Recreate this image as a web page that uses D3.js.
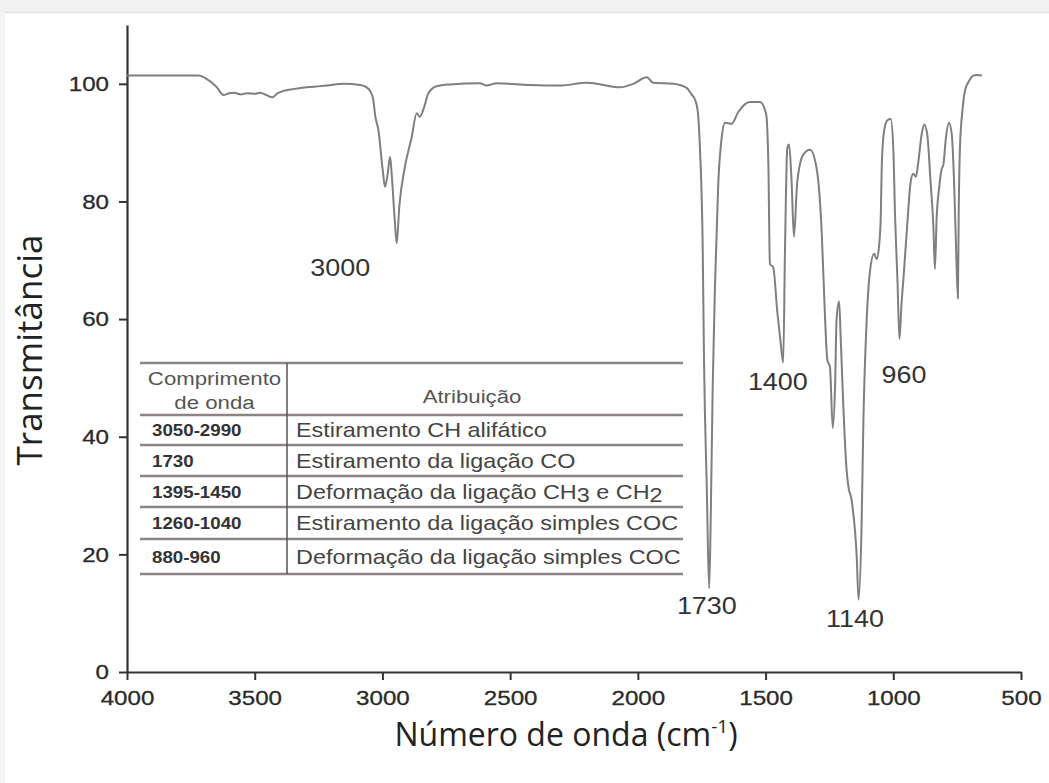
<!DOCTYPE html>
<html><head><meta charset="utf-8">
<script src="https://cdn.jsdelivr.net/npm/d3@7"></script>
<style>body{margin:0;background:#fff}svg{display:block}</style>
</head><body>
<svg id="chart" width="1049" height="783"></svg>
<script>
// FTIR spectrum: wavenumber (cm-1) and transmittance (%)
const wavenumbers = [4000,3720,3690,3650,3622,3600,3582,3555,3530,3500,3478,3455,3432,3410,3387,3350,3321,3270,3217,3152,3087,3062,3047,3036,3028,3016,2999,2990,2981,2970,2964,2952,2944,2934,2912,2885,2866,2853,2840,2820,2788,2735,2618,2592,2553,2422,2305,2200,2070,2018,1965,1940,1861,1809,1790,1776,1766,1757,1746,1741,1730,1721,1715,1707,1698,1685,1672,1659,1633,1607,1561,1522,1498,1489,1483,1470,1454,1441,1431,1424,1415,1408,1398,1389,1376,1352,1326,1300,1280,1267,1258,1248,1237,1228,1222,1212,1206,1196,1183,1176,1163,1143,1136,1124,1117,1104,1091,1075,1065,1055,1049,1045,1036,1023,1010,1000,993,983,976,968,958,945,932,922,911,902,889,879,867,854,843,837,830,821,810,804,794,782,771,762,754,747,744,739,728,719,700,690,675,653];
const transmittance = [101.4,101.4,100.9,99.5,98.1,98.4,98.5,98.2,98.4,98.3,98.5,98.1,97.7,98.4,98.8,99.1,99.3,99.5,99.7,100.0,99.8,99.4,98.7,97.3,94.5,92.2,85.4,82.5,84.2,87.6,84.8,77,72.9,79.1,85.9,91.0,95.0,94.4,95.6,98.4,99.6,99.9,100.1,99.7,100.1,99.8,99.7,100.2,99.4,100,101.1,100.2,100,99.3,98.2,97.3,95.5,89.1,71.7,53.1,31,14.2,25.2,48.5,65.8,83.3,90.8,93.4,93.2,95.2,96.9,96.9,94.9,86.2,69.4,68.8,61.2,56,52.6,71.7,89.1,89.7,83.3,74,83.3,88,88.8,85.6,74.6,60,53,51.9,41.5,48.5,60,63,57,45.6,34.5,31.6,29.2,19.4,12.3,25.2,42.7,60,68.2,71.1,70.2,72.8,77.5,86.2,92,93.8,94,89.1,77.5,65.8,56.6,62.4,68.2,76.3,83.3,84.7,84.2,86.7,91.4,93.1,91.4,83.3,75.7,68.5,77.5,82.1,85.6,86.2,90.8,93.4,91.4,83.3,71.7,63.5,77.5,89.1,96,98.9,100.7,101.3,101.5,101.4];

const xTicks = [4000,3500,3000,2500,2000,1500,1000,500];
const xMinorTicks = [3750,3250,2750,2250,1750,1250,750];
const yTicks = [0,20,40,60,80,100];
const yMinorTicks = [10,30,50,70,90,110];

// peak annotations
const peakLabels = ["3000","1730","1400","1140","960"];
const peakLabelWn = [3165,1730,1452,1150,958];
const peakLabelT = [67.3,9.8,48,7.6,49.2];

// band assignment table
const tableHeadRange = ["Comprimento","de onda"];
const tableHeadAssign = "Atribuição";
const bandRanges = ["3050-2990","1730","1395-1450","1260-1040","880-960"];
const bandAssignments = [
  "Estiramento CH alifático",
  "Estiramento da ligação CO",
  "Deformação da ligação CH3 e CH2",
  "Estiramento da ligação simples COC",
  "Deformação da ligação simples COC"
];

const svg = d3.select("#chart");
const W = 1049, H = 783;
const SX = 1.17; // horizontal widening of the sans-serif lettering

// widen text horizontally about its anchor point
function widen(sel, sx) {
  sel.each(function () {
    const t = d3.select(this);
    const tx = +t.attr("x") || 0, ty = +t.attr("y") || 0;
    t.attr("x", 0).attr("y", 0).attr("transform", `translate(${tx},${ty}) scale(${sx},1)`);
  });
}

// page frame
svg.append("rect").attr("width", W).attr("height", H).attr("fill", "#fff");
svg.append("rect").attr("width", W).attr("height", 12).attr("fill", "#f1f1f1");
svg.append("line").attr("x1", 0).attr("x2", W).attr("y1", 12.5).attr("y2", 12.5)
  .attr("stroke", "#e2e2e2").attr("stroke-width", 1.5);
svg.append("rect").attr("x", 0).attr("y", 12).attr("width", 5).attr("height", H - 12).attr("fill", "#f4f4f4");

const x = d3.scaleLinear().domain([4000, 500]).range([127, 1021]);
const y = d3.scaleLinear().domain([0, 110]).range([672, 25]);

const sans = "'Liberation Sans', Arial, sans-serif";
const titleFont = "'Open Sans', 'Noto Sans', sans-serif";

// axes
const gx = svg.append("g").attr("transform", "translate(0,672)");
gx.call(d3.axisBottom(x).tickValues(xMinorTicks).tickSize(5).tickSizeOuter(0).tickFormat(""));
gx.call(d3.axisBottom(x).tickValues(xTicks).tickSize(8).tickSizeOuter(0).tickPadding(10).tickFormat(d3.format("d")));

const gy = svg.append("g").attr("transform", "translate(127,0)");
gy.call(d3.axisLeft(y).tickValues(yMinorTicks).tickSize(5).tickSizeOuter(0).tickFormat(""));
gy.call(d3.axisLeft(y).tickValues(yTicks).tickSize(8).tickSizeOuter(0).tickPadding(10).tickFormat(d3.format("d")));

svg.selectAll(".domain").attr("stroke", "#333").attr("stroke-width", 2.2);
svg.selectAll(".tick line").attr("stroke", "#333").attr("stroke-width", 2);
svg.selectAll(".tick text").attr("fill", "#2a2a2a").attr("font-family", sans)
  .attr("font-size", 21).attr("stroke", "#2a2a2a").attr("stroke-width", 0.3);
widen(svg.selectAll(".tick text"), 1.15);

// spectrum
const pts = wavenumbers.map((w, i) => [w, transmittance[i]]);
const line = d3.line().x(d => x(d[0])).y(d => y(d[1])).curve(d3.curveMonotoneX);
svg.append("path").datum(pts).attr("d", line).attr("fill", "none")
  .attr("stroke", "#7f7f7f").attr("stroke-width", 2).attr("stroke-linejoin", "round");

// peak labels
const pl = svg.append("g").selectAll("text").data(peakLabels).join("text")
  .attr("x", (d, i) => x(peakLabelWn[i])).attr("y", (d, i) => y(peakLabelT[i]))
  .attr("text-anchor", "middle").attr("font-family", sans).attr("font-size", 23)
  .attr("fill", "#333").text(d => d);
widen(pl, SX);

// axis titles
svg.append("text").attr("transform", "translate(42,350) rotate(-90)")
  .attr("text-anchor", "middle").attr("font-family", titleFont)
  .attr("font-size", 35).attr("fill", "#222").text("Transmitância");

const xt = svg.append("text").attr("x", 566).attr("y", 746).attr("text-anchor", "middle")
  .attr("font-family", titleFont).attr("font-size", 32).attr("fill", "#222");
xt.append("tspan").text("Número de onda (cm");
xt.append("tspan").attr("dy", -13).attr("font-size", 19).text("-1");
xt.append("tspan").attr("dy", 13).text(")");

// table
const tbl = svg.append("g");
const tLeft = 140, tRight = 683, tDiv = 287;
const rowLines = [363, 415, 445, 476, 507, 539, 574];
rowLines.forEach(ly => {
  tbl.append("line").attr("x1", tLeft).attr("x2", tRight).attr("y1", ly).attr("y2", ly)
    .attr("stroke", "#8c8383").attr("stroke-width", 2.6);
});
tbl.append("line").attr("x1", tDiv).attr("x2", tDiv).attr("y1", rowLines[0]).attr("y2", rowLines[rowLines.length - 1])
  .attr("stroke", "#555").attr("stroke-width", 1.5);

const h1 = tbl.selectAll("text.h1").data(tableHeadRange).join("text").attr("class", "h1")
  .attr("x", (tLeft + tDiv) / 2 + 1).attr("y", (d, i) => 385 + i * 24)
  .attr("text-anchor", "middle").attr("font-family", sans).attr("font-size", 19)
  .attr("fill", "#555").text(d => d);
widen(h1, SX);
const h2 = tbl.append("text").attr("x", (tDiv + tRight) / 2 - 13).attr("y", 403).attr("text-anchor", "middle")
  .attr("font-family", sans).attr("font-size", 19).attr("fill", "#555").text(tableHeadAssign);
widen(h2, SX);

const rng = tbl.selectAll("text.rng").data(bandRanges).join("text").attr("class", "rng")
  .attr("x", 152).attr("y", (d, i) => (rowLines[i + 1] + rowLines[i + 2]) / 2 + 6)
  .attr("font-family", sans).attr("font-weight", "bold").attr("font-size", 16)
  .attr("fill", "#333").text(d => d);
widen(rng, SX);

// assignment text; digits following "CH" sit slightly below the baseline
const asg = tbl.selectAll("text.asg").data(bandAssignments).join("text").attr("class", "asg")
  .attr("x", 296).attr("y", (d, i) => (rowLines[i + 1] + rowLines[i + 2]) / 2 + 7)
  .attr("font-family", sans).attr("font-size", 20)
  .attr("fill", "#444");
asg.each(function (d) {
  const t = d3.select(this);
  d.split(/(?<=CH)(\d)/).forEach((part, k) => {
    if (k % 2 === 1) t.append("tspan").attr("dy", 3).text(part);
    else if (part) t.append("tspan").attr("dy", k ? -3 : 0).text(part);
  });
});
widen(asg, SX);
</script>
</body></html>
